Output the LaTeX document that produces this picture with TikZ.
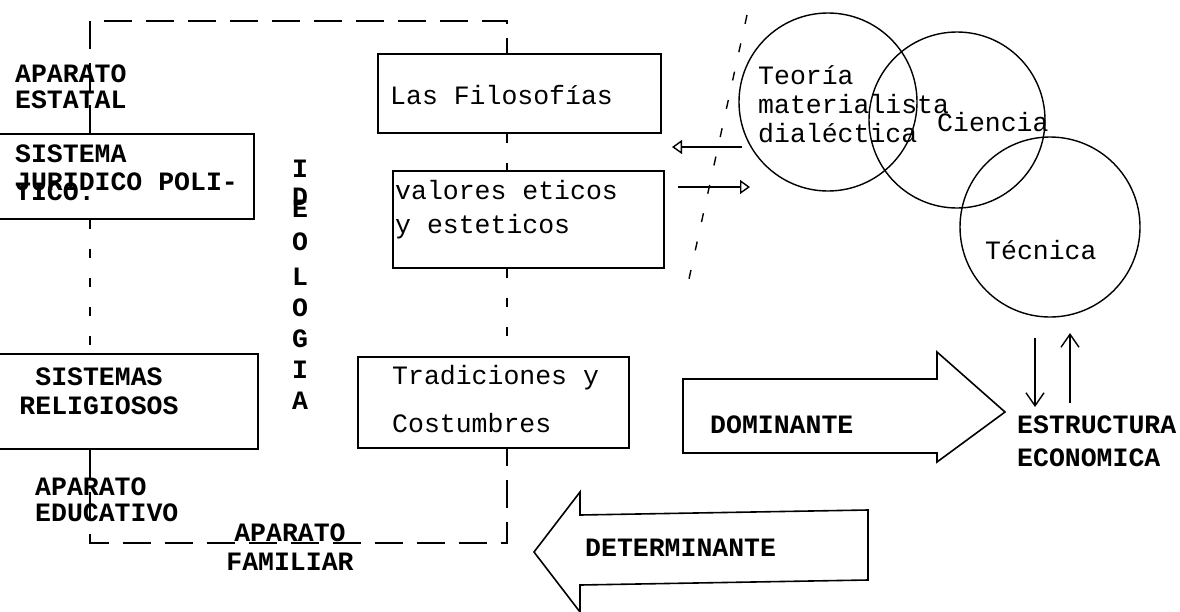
\documentclass[tikz,border=0pt]{standalone}
\usepackage{fontspec}
\setmonofont{Liberation Mono}
\usetikzlibrary{arrows.meta}

\begin{document}
\begin{tikzpicture}[x=1pt, y=-1pt,
	panel/.style={draw, line width=1.5pt, inner sep=0pt, anchor=north west},
	typed/.style={font=\ttfamily\fontsize{26.5pt}{29pt}\selectfont, inner sep=0pt, anchor=west, align=left},
	capstyped/.style={typed, font=\ttfamily\bfseries\fontsize{26.5pt}{29pt}\selectfont},
	ring/.style={draw, circle, line width=1.4pt, inner sep=0pt},
	framedash/.style={line width=1.4pt, dash pattern=on 28pt off 14pt},
	link/.style={line width=1.4pt, dash pattern=on 9pt off 20pt},
	bigarrow/.style={draw, line width=1.6pt, line join=miter},
	flow/.style={line width=1.4pt, -{Triangle[open,length=10pt,width=14pt]}},
	feed/.style={line width=1.4pt, -{Straight Barb[length=13pt,width=18pt]}}]
	\useasboundingbox (0,0) rectangle (1180,611);

	\node[panel, minimum width=257pt, minimum height=85pt] (juridico) at (-4,133) {};
	\node[panel, minimum width=261pt, minimum height=95pt] (religiosos) at (-4,353) {};
	\node[panel, minimum width=283pt, minimum height=79pt] (filosofias) at (377,53) {};
	\node[panel, minimum width=271pt, minimum height=97pt] (valores) at (392,170) {};
	\node[panel, minimum width=271pt, minimum height=91pt] (tradiciones) at (357,356) {};

	\node[capstyped] (estatal) at (15,87) {APARATO\\[-3pt]ESTATAL};
	\node[capstyped] (juridicotxt) at (15,173) {SISTEMA\\[-1pt]JURIDICO POLI-\\[-19pt]TICO.};
	\node[capstyped, anchor=center, align=center] (religiosostxt) at (99,391) {SISTEMAS\\RELIGIOSOS};
	\node[capstyped] (educativo) at (35,500) {APARATO\\[-3pt]EDUCATIVO};
	\node[capstyped, anchor=center, align=center] (familiar) at (290,547) {APARATO\\FAMILIAR};
	\node[capstyped, anchor=north, align=center] (ideologia) at (300,160) {I\\[-1pt]D\\[-17pt]E\\[4pt]O\\[6pt]L\\[2pt]O\\[2pt]G\\[2pt]I\\[2pt]A};
	\node[typed] (filosofiastxt) at (390,95) {Las Filosofías};
	\node[typed] (valorestxt) at (395,210) {valores eticos\\[5pt]y esteticos};
	\node[typed] (tradicionestxt) at (392,399) {Tradiciones y\\[19pt]Costumbres};

	\node[ring, minimum size=178pt] (teoria) at (828,102) {};
	\node[ring, minimum size=176pt] (ciencia) at (957,120) {};
	\node[ring, minimum size=180pt] (tecnica) at (1050,227) {};
	\node[typed] (teoriatxt) at (758,104) {Teoría\\materialista\\dialéctica};
	\node[typed] (cienciatxt) at (937,122) {Ciencia};
	\node[typed] (tecnicatxt) at (985,250) {Técnica};
	\node[capstyped] (estructura) at (1017,441) {ESTRUCTURA\\[4pt]ECONOMICA};

	\draw[bigarrow] (683,379) -- (937,379) -- (937,352) -- (1005,412) -- (937,462) -- (937,453) -- (683,453) -- cycle;
	\node[capstyped] (dominante) at (710,425) {DOMINANTE};
	\draw[bigarrow] (868,510) -- (580,515) -- (580,492) -- (534,552) -- (580,612) -- (580,585) -- (868,580) -- cycle;
	\node[capstyped] (determinante) at (585,548) {DETERMINANTE};

	\coordinate (tl) at (90,21);
	\coordinate (tr) at (507,21);
	\coordinate (bl) at (90,543);
	\coordinate (br) at (507,543);
	\draw[framedash] (juridico.north -| tl) -- (tl) -- (tr) -- (filosofias.north -| tr);
	\draw[link] (juridico.south -| tl) -- (religiosos.north -| tl);
	\draw[framedash] (religiosos.south -| bl) -- (bl) -- (br) -- (tradiciones.south -| br);
	\draw[link] (filosofias.south -| tr) -- (valores.north -| tr);
	\draw[link] (valores.south -| tr) -- (tradiciones.north -| tr);

	\coordinate (teoriaout) at (742,147);
	\coordinate (filosofiasin) at (672,147);
	\coordinate (valoresout) at (678,187);
	\coordinate (teoriain) at (750,187);
	\coordinate (cuttop) at (747,15);
	\coordinate (cutbot) at (687,288);
	\coordinate (downtop) at (1035,338);
	\coordinate (downbot) at (1035,407);
	\coordinate (upbot) at (1070,403);
	\coordinate (uptop) at (1070,333);
	\draw[flow] (teoriaout) -- (filosofiasin);
	\draw[flow] (valoresout) -- (teoriain);
	\draw[link] (cuttop) -- (cutbot);
	\draw[feed] (downtop) -- (downbot);
	\draw[feed] (upbot) -- (uptop);
\end{tikzpicture}
\end{document}
